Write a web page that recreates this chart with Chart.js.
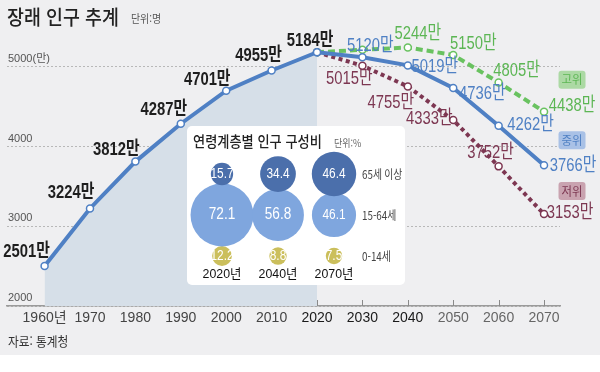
<!DOCTYPE html>
<html lang="ko">
<head>
<meta charset="utf-8">
<script src="https://cdn.jsdelivr.net/npm/chart.js@4.4.1/dist/chart.umd.min.js"></script>
<style>
  html, body { margin: 0; padding: 0; background: #fff; }
  #wrap { position: relative; width: 600px; height: 372px; overflow: hidden; font-family: "Noto Sans CJK KR", sans-serif; }
  #bg { position: absolute; left: 0; top: 0; width: 600px; height: 355px; background: #efeff1; }
  #main { position: absolute; left: 0; top: 0; }
  .txt { position: absolute; white-space: nowrap; line-height: 1; transform-origin: left center; }
  #title { left: 7px; top: 7px; font-size: 20px; font-weight: 500; color: #222; transform: scaleX(0.92); }
  #unit { left: 131px; top: 13px; font-size: 11px; color: #555; transform: scaleX(0.9); }
  #source { left: 8px; top: 334px; font-size: 13px; color: #333; transform: scaleX(0.9); }
  #inset { position: absolute; left: 187px; top: 126px; width: 218px; height: 159px; background: #fff; border-radius: 5px; }
  #bubbles { position: absolute; left: 0; top: 0; }
  #insetTitle { left: 6px; top: 7px; font-size: 15px; font-weight: 500; color: #222; transform: scaleX(0.88); }
  #insetUnit { left: 147px; top: 12px; font-size: 10px; color: #666; transform: scaleX(0.9); }
</style>
</head>
<body>
<div id="wrap">
  <div id="bg"></div>
  <canvas id="main" width="600" height="372"></canvas>
  <div class="txt" id="title">장래 인구 추계</div>
  <div class="txt" id="unit">단위:명</div>
  <div class="txt" id="source">자료: 통계청</div>
  <div id="inset">
    <canvas id="bubbles" width="218" height="159"></canvas>
    <div class="txt" id="insetTitle">연령계층별 인구 구성비</div>
    <div class="txt" id="insetUnit">단위:%</div>
  </div>
</div>
<script>
// ---- 데이터 (단위: 만 명) ----
const yearsPast = [1960, 1970, 1980, 1990, 2000, 2010, 2020];
const popPast = [2501, 3224, 3812, 4287, 4701, 4955, 5184];
const yearsProj = [2020, 2030, 2040, 2050, 2060, 2070];
const popMid = [5184, 5120, 5019, 4736, 4262, 3766];
const popHigh = [5184, 5215, 5244, 5150, 4805, 4438];
const popLow = [5184, 5015, 4755, 4333, 3752, 3153];
const xTicks = [1960, 1970, 1980, 1990, 2000, 2010, 2020, 2030, 2040, 2050, 2060, 2070];
const yTicks = [2000, 3000, 4000, 5000];

// 연령계층별 구성비 (%)
const ageYears = ['2020년', '2040년', '2070년'];
const ageGroups = ['0-14세', '15-64세', '65세 이상'];
const share014 = [12.2, 8.8, 7.5];
const share1564 = [72.1, 56.8, 46.1];
const share65 = [15.7, 34.4, 46.4];

// ---- 스타일 ----
const BLUE = '#4f80c4';
const GREEN = '#69c260';
const GREEN_TXT = '#5cb654';
const MAROON = '#7d3752';
const NARROW = '"Liberation Sans Narrow", "Liberation Sans", "Noto Sans CJK KR", sans-serif';
const KR = '"Noto Sans CJK KR", sans-serif';

// 값 라벨 위치 (점 기준 텍스트 중심 오프셋)
const POS_PAST = [[-18, -14], [-19, -16], [-19, -12], [-17, -14], [-19, -11], [-13, -15], [-7, -11]];
const POS_MID = [null, [8, -12], [27, 1], [29, 6], [32, -1], [29, 1]];
const POS_HIGH = [null, null, [10, -14], [20, -11], [18, -12], [28, -6]];
const POS_LOW = [null, [-13, 13], [-17, 16], [-24, -1], [-8, -14], [26, -1]];

function toPoints(xs, ys) {
  return xs.map((x, i) => ({ x: x, y: ys[i] }));
}

/** 좁은 글꼴 효과를 위해 가로로 눌러서 텍스트를 그림 */
function drawText(ctx, text, x, y, font, color, align, sx) {
  ctx.save();
  ctx.translate(x, y);
  ctx.scale(sx, 1);
  ctx.font = font;
  ctx.fillStyle = color;
  ctx.textAlign = align;
  ctx.textBaseline = 'middle';
  ctx.fillText(text, 0, 0);
  ctx.restore();
}

function lineDataset(label, data, color, dash, labelPos, labelColor, bold, tag) {
  return {
    label: label,
    data: data,
    borderColor: color,
    borderWidth: 4,
    borderDash: dash,
    pointRadius: 3.5,
    pointBackgroundColor: '#fff',
    pointBorderColor: color,
    pointBorderWidth: 1.5,
    tension: 0,
    fill: false,
    labelPos: labelPos,
    labelColor: labelColor,
    labelBold: bold,
    tag: tag,
  };
}

// 값 라벨, x축 눈금, 시나리오 태그
const mainDecor = {
  id: 'mainDecor',
  beforeDatasetsDraw(chart) {
    const ctx = chart.ctx;
    const xs = chart.scales.x;
    const bottom = chart.chartArea.bottom;
    ctx.save();
    ctx.strokeStyle = '#8a8a8a';
    ctx.lineWidth = 1;
    xTicks.forEach(v => {
      const px = Math.round(xs.getPixelForValue(v)) + 0.5;
      ctx.beginPath();
      ctx.moveTo(px, bottom - 6);
      ctx.lineTo(px, bottom);
      ctx.stroke();
    });
    ctx.restore();
  },
  afterDatasetsDraw(chart) {
    const ctx = chart.ctx;
    chart.data.datasets.forEach((ds, di) => {
      const meta = chart.getDatasetMeta(di);
      meta.data.forEach((el, i) => {
        const pos = ds.labelPos[i];
        if (!pos) return;
        const font = (ds.labelBold ? 'bold ' : '') + '19px ' + NARROW;
        drawText(ctx, ds.data[i].y + '만', el.x + pos[0], el.y + pos[1], font, ds.labelColor, 'center', 0.78);
      });
      if (ds.tag) {
        const last = meta.data[meta.data.length - 1];
        const cx = last.x + 28;
        const cy = last.y + ds.tag.dy;
        ctx.save();
        ctx.fillStyle = ds.tag.bg;
        ctx.beginPath();
        ctx.roundRect(cx - 13.5, cy - 9, 27, 18, 3);
        ctx.fill();
        ctx.restore();
        drawText(ctx, ds.label, cx, cy, '12px ' + KR, ds.tag.fg, 'center', 0.95);
      }
    });
  },
};

new Chart(document.getElementById('main'), {
  type: 'line',
  data: {
    datasets: [
      lineDataset('중위', toPoints(yearsProj, popMid), BLUE, [], POS_MID, BLUE, false, { dy: -25, bg: '#a9c1e6', fg: BLUE }),
      (function () {
        const d = lineDataset('과거', toPoints(yearsPast, popPast), BLUE, [], POS_PAST, '#1e1e1e', true, null);
        d.fill = 'start';
        d.backgroundColor = '#d6dfe8';
        return d;
      })(),
      lineDataset('고위', toPoints(yearsProj, popHigh), GREEN, [7, 4], POS_HIGH, GREEN_TXT, false, { dy: -32, bg: '#acd9a4', fg: GREEN_TXT }),
      lineDataset('저위', toPoints(yearsProj, popLow), MAROON, [4, 3.5], POS_LOW, MAROON, false, { dy: -23, bg: '#c9a3b0', fg: MAROON }),
    ],
  },
  options: {
    responsive: false,
    animation: false,
    layout: { padding: { left: 7, right: 40, top: 43, bottom: 0 } },
    plugins: { legend: { display: false }, tooltip: { enabled: false } },
    scales: {
      x: {
        type: 'linear',
        min: 1951.72,
        max: 2073.52,
        afterBuildTicks: s => { s.ticks = xTicks.map(v => ({ value: v })); },
        afterFit: s => { s.height = 66; },
        grid: { drawOnChartArea: false, drawTicks: false },
        border: { display: true, color: '#9a9a9a', width: 1.5 },
        ticks: {
          padding: 4,
          autoSkip: false,
          maxRotation: 0,
          font: { family: NARROW, size: 14 },
          color: c => (c.tick.value >= 2020 && c.tick.value <= 2040 ? '#1a1a1a' : (c.tick.value > 2040 ? '#666' : '#444')),
          callback: v => (v === 1960 ? '1960년' : String(v)),
        },
      },
      y: {
        min: 2000,
        max: 5300,
        afterBuildTicks: s => { s.ticks = yTicks.map(v => ({ value: v })); },
        afterFit: s => { s.width = 0; },
        grid: { color: '#b8b8b8', lineWidth: 1, drawTicks: false },
        border: { display: false, dash: [2, 2] },
        ticks: {
          mirror: true,
          padding: 1,
          labelOffset: -8,
          font: { family: NARROW, size: 11 },
          color: '#555',
          callback: v => (v === 5000 ? '5000(만)' : String(v)),
        },
      },
    },
  },
  plugins: [mainDecor],
});

// ---- 연령계층별 구성비 버블 ----
function bubbleR(v) {
  return 0.36 * v + 5.5;
}

function bubbleSet(label, values, row, color) {
  return {
    label: label,
    data: values.map((v, i) => ({ x: i, y: row, r: bubbleR(v), v: v })),
    backgroundColor: color,
    borderWidth: 0,
    clip: false,
  };
}

const bubbleDecor = {
  id: 'bubbleDecor',
  afterDatasetsDraw(chart) {
    const ctx = chart.ctx;
    chart.data.datasets.forEach((ds, di) => {
      chart.getDatasetMeta(di).data.forEach((el, i) => {
        const big = ds.data[i].v > 50;
        drawText(ctx, ds.data[i].v.toFixed(1), el.x, el.y, (big ? '16px ' : '14px ') + NARROW, '#fff', 'center', 0.85);
      });
    });
    const xs = chart.scales.x;
    const ys = chart.scales.y;
    ageGroups.forEach((g, row) => {
      drawText(ctx, g, 175, ys.getPixelForValue(row), '12px ' + KR, '#444', 'left', 0.82);
    });
    ageYears.forEach((y, col) => {
      drawText(ctx, y, xs.getPixelForValue(col), 148, '13px ' + NARROW, '#111', 'center', 0.95);
    });
  },
};

new Chart(document.getElementById('bubbles'), {
  type: 'bubble',
  data: {
    datasets: [
      bubbleSet(ageGroups[2], share65, 2, '#4b6fab'),
      bubbleSet(ageGroups[1], share1564, 1, '#7fa6de'),
      bubbleSet(ageGroups[0], share014, 0, '#cbbf5c'),
    ],
  },
  options: {
    responsive: false,
    animation: false,
    layout: { padding: 0, autoPadding: false },
    plugins: { legend: { display: false }, tooltip: { enabled: false } },
    scales: {
      x: { type: 'linear', display: false, min: -0.625, max: 3.268 },
      y: { type: 'linear', display: false, min: -0.707, max: 3.171 },
    },
  },
  plugins: [bubbleDecor],
});
</script>
</body>
</html>
